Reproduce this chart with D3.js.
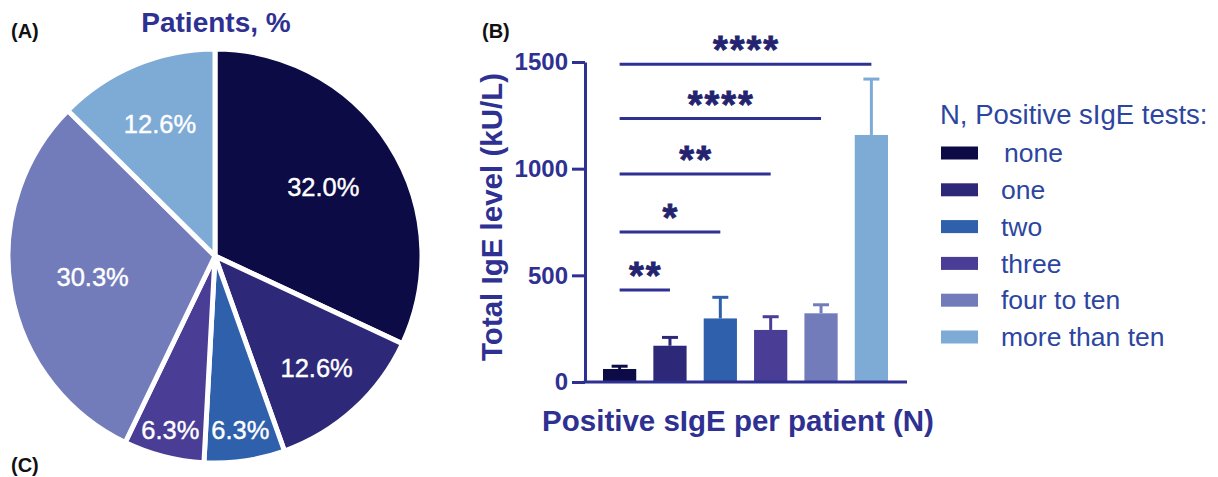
<!DOCTYPE html>
<html><head><meta charset="utf-8">
<script src="https://cdn.jsdelivr.net/npm/d3@7"></script>
<style>body{margin:0;background:#fff;} svg{display:block;}</style>
</head><body>
<svg id="c" width="1218" height="477"></svg>
<script>
// ---- data ----
const categories = ["none", "one", "two", "three", "four to ten", "more than ten"];
const piePercent = [32.0, 12.6, 6.3, 6.3, 30.3, 12.6];
const barMeans = [61, 170, 298, 244, 322, 1158];
const barErrors = [13, 39, 99, 62, 40, 262];
const yTicks = [0, 500, 1000, 1500];
const sigPairs = [[0, 1, "**", 431], [0, 2, "*", 703], [0, 3, "**", 975], [0, 4, "****", 1235], [0, 5, "****", 1490]];
const colors = ["#0c0b45", "#2d2878", "#2e60ab", "#493d96", "#737cba", "#7eaad6"];

const svg = d3.select("#c");
const font = "'Liberation Sans', Arial, sans-serif";
const navy = "#2e3192";

// panel letters
[["(A)", 11, 38], ["(B)", 482, 38], ["(C)", 11, 472]].forEach(d => {
  svg.append("text").attr("x", d[1]).attr("y", d[2]).text(d[0])
    .attr("font-family", font).attr("font-weight", "bold").attr("font-size", 20).attr("fill", "#111");
});

// ---- Pie ----
const cx = 215, cy = 256, R = 207;
svg.append("text").attr("x", 216).attr("y", 32).attr("text-anchor", "middle")
  .attr("font-family", font).attr("font-weight", "bold").attr("font-size", 28).attr("fill", navy).text("Patients, %");
const pie = d3.pie().sort(null).value(d => d)(piePercent);
const arc = d3.arc().innerRadius(0).outerRadius(R);
const pg = svg.append("g").attr("transform", `translate(${cx},${cy})`);
pg.selectAll("path").data(pie).join("path").attr("d", arc)
  .attr("fill", (d, i) => colors[i]).attr("stroke", "#fff").attr("stroke-width", 5).attr("stroke-linejoin", "miter");
const labelR = [0.62, 0.73, 0.85, 0.87, 0.6, 0.69];
pg.selectAll("text").data(pie).join("text")
  .attr("transform", (d, i) => {
    const a = (d.startAngle + d.endAngle) / 2, r = R * labelR[i];
    return `translate(${Math.sin(a) * r},${-Math.cos(a) * r})`;
  })
  .attr("text-anchor", "middle").attr("dy", "0.35em")
  .attr("font-family", font).attr("font-size", 25.5).attr("fill", "#fff")
  .attr("stroke", "#fff").attr("stroke-width", 0.4)
  .text(d => d.data.toFixed(1) + "%");

// ---- Bar chart ----
const y = d3.scaleLinear().domain([0, 1500]).range([382, 62]);
const x = d3.scaleBand().domain(categories).range([603, 888]).paddingInner(0.34).paddingOuter(0);
const axisX0 = 585, axisX1 = 907;

const bg = svg.append("g");
bg.selectAll("rect.bar").data(categories).join("rect").attr("class", "bar")
  .attr("x", d => x(d)).attr("width", x.bandwidth())
  .attr("y", (d, i) => y(barMeans[i])).attr("height", (d, i) => y(0) - y(barMeans[i]))
  .attr("fill", (d, i) => colors[i]);
// error bars (upper)
bg.selectAll("line.err").data(categories).join("line").attr("class", "err")
  .attr("x1", d => x(d) + x.bandwidth() / 2).attr("x2", d => x(d) + x.bandwidth() / 2)
  .attr("y1", (d, i) => y(barMeans[i])).attr("y2", (d, i) => y(barMeans[i] + barErrors[i]))
  .attr("stroke", (d, i) => colors[i]).attr("stroke-width", 3);
bg.selectAll("line.cap").data(categories).join("line").attr("class", "cap")
  .attr("x1", d => x(d) + x.bandwidth() / 2 - 8).attr("x2", d => x(d) + x.bandwidth() / 2 + 8)
  .attr("y1", (d, i) => y(barMeans[i] + barErrors[i])).attr("y2", (d, i) => y(barMeans[i] + barErrors[i]))
  .attr("stroke", (d, i) => colors[i]).attr("stroke-width", 3);

// y axis
const yAxis = d3.axisLeft(y).tickValues(yTicks).tickFormat(d3.format("d")).tickSize(13).tickPadding(4).tickSizeOuter(0);
const ya = svg.append("g").attr("transform", `translate(${axisX0},0)`).call(yAxis);
ya.select(".domain").attr("stroke", navy).attr("stroke-width", 3);
ya.selectAll(".tick line").attr("stroke", navy).attr("stroke-width", 3);
ya.selectAll(".tick text").attr("font-family", font).attr("font-weight", "bold").attr("font-size", 24).attr("fill", navy);
// x axis line
svg.append("line").attr("x1", axisX0 - 1.5).attr("x2", axisX1).attr("y1", y(0)).attr("y2", y(0))
  .attr("stroke", navy).attr("stroke-width", 3);

// axis titles
svg.append("text").attr("transform", `translate(502,217) rotate(-90)`).attr("text-anchor", "middle")
  .attr("font-family", font).attr("font-weight", "bold").attr("font-size", 29.5).attr("fill", navy)
  .text("Total IgE level (kU/L)");
svg.append("text").attr("x", 738).attr("y", 431).attr("text-anchor", "middle")
  .attr("font-family", font).attr("font-weight", "bold").attr("font-size", 29.5).attr("fill", navy)
  .text("Positive sIgE per patient (N)");

// significance lines
const sg = svg.append("g");
sigPairs.forEach(p => {
  const xa = x(categories[p[0]]) + x.bandwidth() / 2, xb = x(categories[p[1]]) + x.bandwidth() / 2;
  const yy = y(p[3]);
  sg.append("line").attr("x1", xa).attr("x2", xb).attr("y1", yy).attr("y2", yy)
    .attr("stroke", navy).attr("stroke-width", 3);
  sg.append("text").attr("x", (xa + xb) / 2 + 1).attr("y", yy - 1).attr("text-anchor", "middle")
    .attr("font-family", font).attr("font-weight", "bold").attr("font-size", 38).attr("letter-spacing", 2)
    .attr("fill", "#23236f").attr("stroke", "#23236f").attr("stroke-width", 0.8).text(p[2]);
});

// legend
const lg = svg.append("g");
const legCol = "#2c46a0";
lg.append("text").attr("x", 940).attr("y", 124).attr("font-family", font).attr("font-size", 27.5)
  .attr("fill", legCol).text("N, Positive sIgE tests:");
categories.forEach((c, i) => {
  const cyL = 153 + i * 36.8;
  lg.append("rect").attr("x", 941).attr("y", cyL - 6.5).attr("width", 37).attr("height", 13).attr("fill", colors[i]);
  lg.append("text").attr("x", i === 0 ? 1004 : 1001).attr("y", cyL).attr("dy", "0.35em")
    .attr("font-family", font).attr("font-size", 26.5).attr("fill", legCol).text(c);
});
</script>
</body></html>
